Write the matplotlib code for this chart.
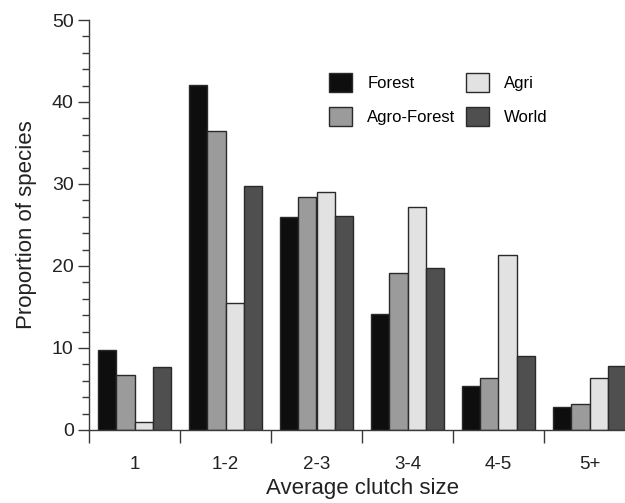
import numpy as np
import matplotlib
matplotlib.use("Agg")
import matplotlib.pyplot as plt
from matplotlib.ticker import MultipleLocator, FixedLocator

plt.rcParams['font.family'] = ['Liberation Sans', 'DejaVu Sans']

categories = ['1', '1-2', '2-3', '3-4', '4-5', '5+']
forest = [9.7, 42.1, 26.0, 14.2, 5.4, 2.8]
agro_forest = [6.7, 36.5, 28.4, 19.2, 6.4, 3.2]
agri = [1.0, 15.5, 29.0, 27.2, 21.3, 6.4]
world = [7.7, 29.8, 26.1, 19.7, 9.0, 7.8]

series = [('Forest', forest, '#0e0e0e'),
          ('Agro-Forest', agro_forest, '#9b9b9b'),
          ('Agri', agri, '#e2e2e2'),
          ('World', world, '#4f4f4f')]

fig = plt.figure(figsize=(6.25, 5.03), dpi=100)
# axes runs a bit past the right edge, as in the original
ax = fig.add_axes([89/625, 73/503, 546/625, 410/503])

x = np.arange(len(categories))
w = 0.2
for i, (name, vals, col) in enumerate(series):
    ax.bar(x + (i - 1.5) * w, vals, w, color=col, edgecolor='#2a2a2a',
           linewidth=1.0, label=name, zorder=2)

ax.set_xlim(-0.5, 5.5)
ax.set_ylim(0, 50)
ax.yaxis.set_major_locator(MultipleLocator(10))
ax.yaxis.set_minor_locator(MultipleLocator(2))
ax.set_xticks(x)
ax.set_xticklabels(categories)
ax.xaxis.set_minor_locator(FixedLocator(np.arange(-0.5, 6, 1)))

for s in ['top', 'right']:
    ax.spines[s].set_visible(False)
for s in ['left', 'bottom']:
    ax.spines[s].set_color('#3a3a3a')
    ax.spines[s].set_linewidth(1.0)

ax.tick_params(axis='y', which='major', length=8, width=1.0, color='#3a3a3a',
               labelsize=14, labelcolor='#222222', pad=3)
ax.tick_params(axis='y', which='minor', length=5, width=1.0, color='#3a3a3a')
ax.tick_params(axis='x', which='major', length=0, labelsize=13.5,
               labelcolor='#222222', pad=19)
ax.tick_params(axis='x', which='minor', length=9, width=1.0, color='#3a3a3a')

ax.set_ylabel('Proportion of species', fontsize=16, color='#222222', labelpad=11)
ax.set_xlabel('Average clutch size', fontsize=16, color='#222222', labelpad=3)

ax.legend(ncol=2, loc='upper left', bbox_to_anchor=(0.412, 0.907), frameon=False,
          fontsize=12, handlelength=1.4, handleheight=1.4, columnspacing=0.6,
          handletextpad=0.9, labelspacing=0.85)

fig.savefig('out.png', dpi=100)
